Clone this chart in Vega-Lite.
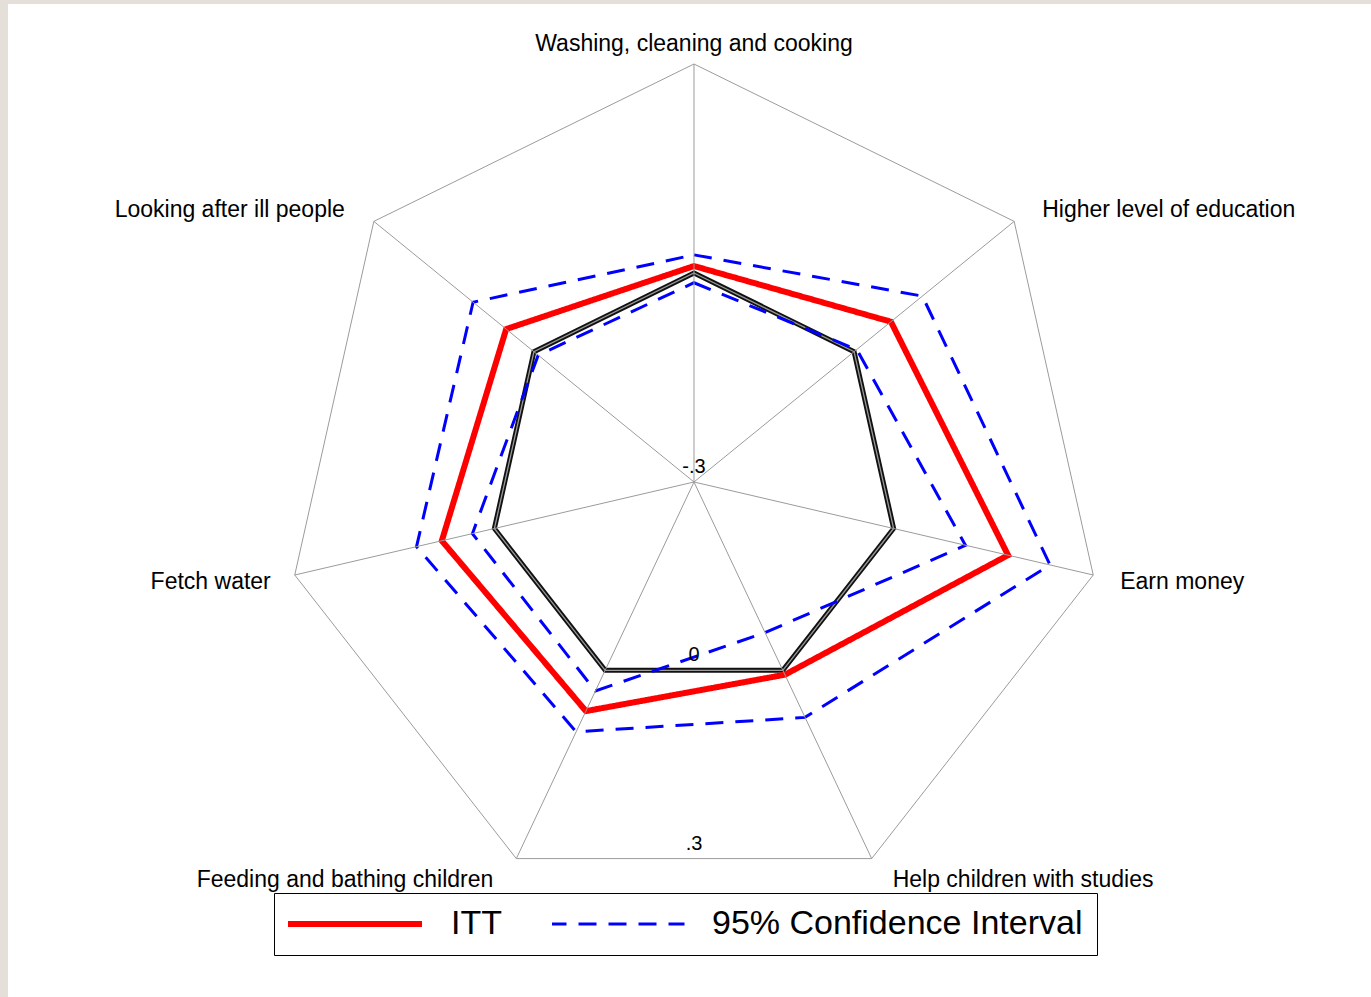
{
  "$schema": "https://vega.github.io/schema/vega-lite/v6.json",
  "width": 1363,
  "height": 993,
  "autosize": {"type": "none"},
  "padding": {"left": 8, "top": 4, "right": 0, "bottom": 0},
  "background": "#e4e0d9",
  "config": {"view": {"fill": "white", "stroke": null}, "font": "Liberation Sans"},
  "datasets": {
    "axes": [
      {"axis": "Washing, cleaning and cooking", "k": 0},
      {"axis": "Higher level of education", "k": 1},
      {"axis": "Earn money", "k": 2},
      {"axis": "Help children with studies", "k": 3},
      {"axis": "Feeding and bathing children", "k": 4},
      {"axis": "Fetch water", "k": 5},
      {"axis": "Looking after ill people", "k": 6}
    ],
    "effects": [
      {"axis": "Washing, cleaning and cooking", "series": "ITT", "bound": "est", "value": 0.010},
      {"axis": "Higher level of education", "series": "ITT", "bound": "est", "value": 0.069},
      {"axis": "Earn money", "series": "ITT", "bound": "est", "value": 0.172},
      {"axis": "Help children with studies", "series": "ITT", "bound": "est", "value": 0.007},
      {"axis": "Feeding and bathing children", "series": "ITT", "bound": "est", "value": 0.065},
      {"axis": "Fetch water", "series": "ITT", "bound": "est", "value": 0.079},
      {"axis": "Looking after ill people", "series": "ITT", "bound": "est", "value": 0.052},
      {"axis": "Washing, cleaning and cooking", "series": "95% Confidence Interval", "bound": "lower", "value": -0.014},
      {"axis": "Higher level of education", "series": "95% Confidence Interval", "bound": "lower", "value": 0.005},
      {"axis": "Earn money", "series": "95% Confidence Interval", "bound": "lower", "value": 0.108},
      {"axis": "Help children with studies", "series": "95% Confidence Interval", "bound": "lower", "value": -0.060},
      {"axis": "Feeding and bathing children", "series": "95% Confidence Interval", "bound": "lower", "value": 0.033},
      {"axis": "Fetch water", "series": "95% Confidence Interval", "bound": "lower", "value": 0.033},
      {"axis": "Looking after ill people", "series": "95% Confidence Interval", "bound": "lower", "value": -0.008},
      {"axis": "Washing, cleaning and cooking", "series": "95% Confidence Interval", "bound": "upper", "value": 0.026},
      {"axis": "Higher level of education", "series": "95% Confidence Interval", "bound": "upper", "value": 0.128},
      {"axis": "Earn money", "series": "95% Confidence Interval", "bound": "upper", "value": 0.235},
      {"axis": "Help children with studies", "series": "95% Confidence Interval", "bound": "upper", "value": 0.075},
      {"axis": "Feeding and bathing children", "series": "95% Confidence Interval", "bound": "upper", "value": 0.098},
      {"axis": "Fetch water", "series": "95% Confidence Interval", "bound": "upper", "value": 0.117},
      {"axis": "Looking after ill people", "series": "95% Confidence Interval", "bound": "upper", "value": 0.114}
    ],
    "ticks": [
      {"tick": "-.3", "value": -0.3},
      {"tick": "0", "value": 0},
      {"tick": ".3", "value": 0.3}
    ]
  },
  "encoding": {
    "x": {"field": "x", "type": "quantitative", "axis": null, "scale": {"domain": [-1.67521, 1.65324], "nice": false, "zero": false}},
    "y": {"field": "y", "type": "quantitative", "axis": null, "scale": {"domain": [-1.23206, 1.14354], "nice": false, "zero": false}}
  },
  "layer": [
    {
      "data": {"name": "axes"},
      "transform": [
        {"calculate": "2*PI*datum.k/7", "as": "a"},
        {"calculate": "sin(datum.a)", "as": "x"},
        {"calculate": "cos(datum.a)", "as": "y"}
      ],
      "mark": {"type": "line", "interpolate": "linear-closed", "color": "#9b9b9b", "strokeWidth": 1},
      "encoding": {"order": {"field": "k", "type": "quantitative"}}
    },
    {
      "data": {"name": "axes"},
      "transform": [
        {"calculate": "2*PI*datum.k/7", "as": "a"},
        {"calculate": "0.5*sin(datum.a)", "as": "x"},
        {"calculate": "0.5*cos(datum.a)", "as": "y"}
      ],
      "mark": {"type": "line", "interpolate": "linear-closed", "color": "#111111", "strokeWidth": 5, "strokeJoin": "miter"},
      "encoding": {"order": {"field": "k", "type": "quantitative"}}
    },
    {
      "data": {"name": "axes"},
      "transform": [
        {"calculate": "2*PI*datum.k/7", "as": "a"},
        {"calculate": "0.5*sin(datum.a)", "as": "x"},
        {"calculate": "0.5*cos(datum.a)", "as": "y"}
      ],
      "mark": {"type": "line", "interpolate": "linear-closed", "color": "#9a9a9a", "strokeWidth": 1.3, "strokeJoin": "miter"},
      "encoding": {"order": {"field": "k", "type": "quantitative"}}
    },
    {
      "data": {"name": "effects"},
      "transform": [
        {"lookup": "axis", "from": {"data": {"name": "axes"}, "key": "axis", "fields": ["k"]}},
        {"calculate": "2*PI*datum.k/7", "as": "a"},
        {"calculate": "(datum.value+0.3)/0.6", "as": "r"},
        {"calculate": "datum.r*sin(datum.a)", "as": "x"},
        {"calculate": "datum.r*cos(datum.a)", "as": "y"}
      ],
      "mark": {"type": "line", "interpolate": "linear-closed", "strokeJoin": "miter"},
      "encoding": {
        "color": {
          "field": "series", "type": "nominal",
          "scale": {"domain": ["ITT", "95% Confidence Interval"], "range": ["#ff0000", "#0000ff"]},
          "legend": {
            "title": null, "orient": "none", "legendX": 266, "legendY": 889,
            "direction": "horizontal", "strokeColor": "black", "fillColor": "white",
            "padding": 14, "labelFontSize": 34, "labelFont": "Liberation Sans", "labelColor": "black",
            "labelLimit": 1000,
            "symbolType": "stroke", "symbolSize": 18496, "clipHeight": 34, "symbolOffset": -5,
            "labelOffset": 26, "columnPadding": 50
          }
        },
        "strokeDash": {
          "field": "series", "type": "nominal",
          "scale": {"domain": ["ITT", "95% Confidence Interval"], "range": [[1, 0], [18, 12]]}
        },
        "strokeWidth": {
          "field": "series", "type": "nominal",
          "scale": {"domain": ["ITT", "95% Confidence Interval"], "range": [6, 3]}
        },
        "detail": {"field": "bound", "type": "nominal"},
        "order": {"field": "k", "type": "quantitative"}
      }
    },
    {
      "data": {"name": "axes"},
      "transform": [
        {"calculate": "2*PI*datum.k/7", "as": "a"},
        {"calculate": "sin(datum.a)", "as": "x"},
        {"calculate": "cos(datum.a)", "as": "y"}
      ],
      "mark": {"type": "rule", "color": "#9b9b9b", "strokeWidth": 1},
      "encoding": {"x2": {"datum": 0}, "y2": {"datum": 0}}
    },
    {
      "data": {"name": "axes"},
      "transform": [
        {"filter": "datum.k == 0"},
        {"calculate": "2*PI*datum.k/7", "as": "a"},
        {"calculate": "sin(datum.a)", "as": "x"},
        {"calculate": "cos(datum.a)", "as": "y"}
      ],
      "mark": {"type": "text", "align": "center", "baseline": "alphabetic", "dy": -13, "fontSize": 23, "color": "#000000"},
      "encoding": {"text": {"field": "axis"}}
    },
    {
      "data": {"name": "axes"},
      "transform": [
        {"filter": "datum.k == 1"},
        {"calculate": "2*PI*datum.k/7", "as": "a"},
        {"calculate": "sin(datum.a)", "as": "x"},
        {"calculate": "cos(datum.a)", "as": "y"}
      ],
      "mark": {"type": "text", "align": "left", "baseline": "alphabetic", "dx": 28, "dy": -4, "fontSize": 23, "color": "#000000"},
      "encoding": {"text": {"field": "axis"}}
    },
    {
      "data": {"name": "axes"},
      "transform": [
        {"filter": "datum.k == 2"},
        {"calculate": "2*PI*datum.k/7", "as": "a"},
        {"calculate": "sin(datum.a)", "as": "x"},
        {"calculate": "cos(datum.a)", "as": "y"}
      ],
      "mark": {"type": "text", "align": "left", "baseline": "alphabetic", "dx": 27, "dy": 14, "fontSize": 23, "color": "#000000"},
      "encoding": {"text": {"field": "axis"}}
    },
    {
      "data": {"name": "axes"},
      "transform": [
        {"filter": "datum.k == 3"},
        {"calculate": "2*PI*datum.k/7", "as": "a"},
        {"calculate": "sin(datum.a)", "as": "x"},
        {"calculate": "cos(datum.a)", "as": "y"}
      ],
      "mark": {"type": "text", "align": "left", "baseline": "alphabetic", "dx": 21, "dy": 28, "fontSize": 23, "color": "#000000"},
      "encoding": {"text": {"field": "axis"}}
    },
    {
      "data": {"name": "axes"},
      "transform": [
        {"filter": "datum.k == 4"},
        {"calculate": "2*PI*datum.k/7", "as": "a"},
        {"calculate": "sin(datum.a)", "as": "x"},
        {"calculate": "cos(datum.a)", "as": "y"}
      ],
      "mark": {"type": "text", "align": "right", "baseline": "alphabetic", "dx": -23, "dy": 28, "fontSize": 23, "color": "#000000"},
      "encoding": {"text": {"field": "axis"}}
    },
    {
      "data": {"name": "axes"},
      "transform": [
        {"filter": "datum.k == 5"},
        {"calculate": "2*PI*datum.k/7", "as": "a"},
        {"calculate": "sin(datum.a)", "as": "x"},
        {"calculate": "cos(datum.a)", "as": "y"}
      ],
      "mark": {"type": "text", "align": "right", "baseline": "alphabetic", "dx": -24, "dy": 14, "fontSize": 23, "color": "#000000"},
      "encoding": {"text": {"field": "axis"}}
    },
    {
      "data": {"name": "axes"},
      "transform": [
        {"filter": "datum.k == 6"},
        {"calculate": "2*PI*datum.k/7", "as": "a"},
        {"calculate": "sin(datum.a)", "as": "x"},
        {"calculate": "cos(datum.a)", "as": "y"}
      ],
      "mark": {"type": "text", "align": "right", "baseline": "alphabetic", "dx": -29, "dy": -4, "fontSize": 23, "color": "#000000"},
      "encoding": {"text": {"field": "axis"}}
    },
    {
      "data": {"name": "ticks"},
      "transform": [
        {"calculate": "0", "as": "x"},
        {"calculate": "-(datum.value+0.3)/0.6*cos(PI/7)", "as": "y"}
      ],
      "mark": {"type": "text", "align": "center", "baseline": "alphabetic", "dy": -9, "fontSize": 20, "color": "#000000"},
      "encoding": {"text": {"field": "tick"}}
    }
  ]
}
